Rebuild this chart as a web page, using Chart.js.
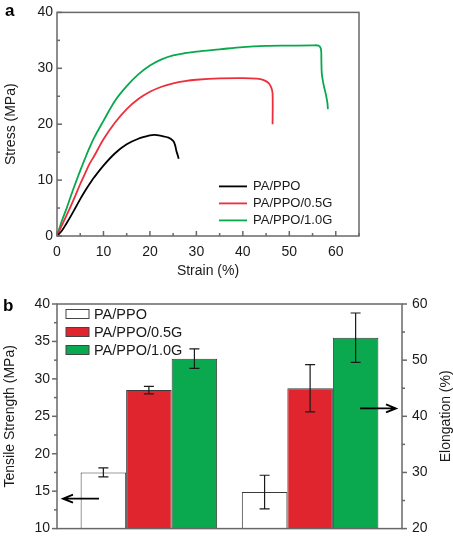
<!DOCTYPE html>
<html>
<head>
<meta charset="utf-8">
<script src="https://cdn.jsdelivr.net/npm/chart.js@4/dist/chart.umd.min.js"></script>
<style>
  body { margin: 0; background: #fff; }
  .wrap { position: relative; width: 453px; height: 547px; }
  canvas { position: absolute; left: 0; }
  #stressChart { top: 0; }
  #barChart { top: 282px; }
</style>
</head>
<body>
<div class="wrap">
  <canvas id="stressChart" width="453" height="282"></canvas>
  <canvas id="barChart" width="453" height="265"></canvas>
</div>
<script>
"use strict";

// ---- data ----
const sampleNames = ["PA/PPO", "PA/PPO/0.5G", "PA/PPO/1.0G"];

// panel a: stress-strain curves
const strainPA = [0, 1, 2, 3, 4, 5, 6, 7, 8, 10, 12.5, 15, 17.5, 20, 21, 22.5, 24, 25, 25.4, 25.7, 26, 26.2];
const stressPA = [0, 0.9, 2.2, 3.6, 5.1, 6.6, 8.0, 9.3, 10.5, 12.6, 14.8, 16.4, 17.4, 18.0, 18.1, 17.9, 17.6, 17.0, 16.3, 15.2, 14.4, 13.8];

const strain05G = [0, 1, 2, 3, 4, 5, 6, 7, 8, 10, 12.5, 15, 17.5, 20, 22.5, 25, 27.5, 30, 35, 40, 43, 44.5, 45.5, 46.1, 46.4, 46.4];
const stress05G = [0, 1.8, 3.6, 5.4, 7.3, 9.3, 11.1, 12.9, 14.3, 17.3, 20.3, 22.7, 24.5, 25.8, 26.7, 27.3, 27.7, 27.95, 28.2, 28.25, 28.15, 27.9, 27.4, 26.6, 25.5, 20.0];

const strain10G = [0, 1, 2, 3, 4, 5, 6, 7, 8, 10, 12.5, 15, 17.5, 20, 22.5, 25, 27.5, 30, 35, 40, 45, 50, 55, 56.3, 56.8, 56.9, 57.0, 57.4, 57.9, 58.2, 58.3];
const stress10G = [0, 2.6, 4.8, 7.2, 9.5, 11.7, 13.8, 15.8, 17.6, 20.6, 24.2, 26.8, 28.9, 30.5, 31.6, 32.3, 32.7, 33.0, 33.4, 33.8, 34.0, 34.05, 34.1, 34.05, 33.5, 31.5, 29.0, 27.0, 25.2, 23.8, 22.7];

// panel b: tensile strength (left axis) and elongation (right axis)
const barCategories = ["Tensile Strength", "Elongation"];
const tensileMean = [17.5, 28.5, 32.7];
const tensileErr = [0.6, 0.5, 1.3];
const elongationMean = [26.5, 45.0, 54.0];
const elongationErr = [3.0, 4.2, 4.4];

// arrows pointing at the axis each group belongs to
const tensileArrowValue = 14;
const elongationArrowValue = 41.4;

// ---- styles ----
const FONT = "'Liberation Sans', Arial, Helvetica, sans-serif";
const AXIS_COLOR = "#686868";
const TEXT_COLOR = "#1a1a1a";
const lineColors = ["#000000", "#ec2f3c", "#08a84c"];
const barColors = ["#ffffff", "#e1252e", "#0aa950"];

Chart.defaults.font.family = FONT;
Chart.defaults.color = TEXT_COLOR;
Chart.defaults.animation = false;

// frame round the plot, tick marks (inward or outward), panel letter
const framePlugin = {
  id: "frame",
  afterDraw(chart, args, opts) {
    const { ctx, chartArea: a } = chart;
    ctx.save();
    ctx.strokeStyle = AXIS_COLOR;
    ctx.lineWidth = 1.5;

    (opts.ticks || []).forEach((t) => {
      const scale = chart.scales[t.axis];
      for (let v = scale.min; v <= scale.max + 1e-9; v += t.minor) {
        const k = v / t.major;
        const isMajor = Math.abs(k - Math.round(k)) < 1e-6;
        const len = isMajor ? t.majorLen : t.minorLen;
        const p = scale.getPixelForValue(v);
        ctx.beginPath();
        if (t.side === "bottom") {
          ctx.moveTo(p, a.bottom);
          ctx.lineTo(p, a.bottom - len * t.dir);
        } else if (t.side === "left") {
          ctx.moveTo(a.left, p);
          ctx.lineTo(a.left + len * t.dir, p);
        } else {
          ctx.moveTo(a.right, p);
          ctx.lineTo(a.right - len * t.dir, p);
        }
        ctx.stroke();
      }
    });

    ctx.strokeRect(a.left, a.top, a.right - a.left, a.bottom - a.top);

    if (opts.panel) {
      ctx.fillStyle = "#000";
      ctx.font = "bold 17px " + FONT;
      ctx.textBaseline = "alphabetic";
      ctx.fillText(opts.panel.text, opts.panel.x, opts.panel.y);
    }

    if (opts.rightTitle) {
      ctx.fillStyle = TEXT_COLOR;
      ctx.font = "14px " + FONT;
      ctx.textAlign = "center";
      ctx.textBaseline = "middle";
      ctx.translate(opts.rightTitle.x, (a.top + a.bottom) / 2);
      ctx.rotate(-Math.PI / 2);
      ctx.fillText(opts.rightTitle.text, 0, 0);
    }
    ctx.restore();
  },
};

// legend drawn inside the plot area
const innerLegendPlugin = {
  id: "innerLegend",
  afterDraw(chart, args, opts) {
    const { ctx, chartArea: a } = chart;
    ctx.save();
    ctx.font = opts.fontSize + "px " + FONT;
    ctx.textBaseline = "middle";
    ctx.textAlign = "left";
    const seen = [];
    chart.data.datasets.forEach((ds) => {
      if (seen.includes(ds.label)) return;
      const row = seen.length;
      seen.push(ds.label);
      const y = a.top + opts.y + row * opts.dy;
      const x = a.left + opts.x;
      if (opts.kind === "line") {
        ctx.strokeStyle = ds.borderColor;
        ctx.lineWidth = 1.8;
        ctx.beginPath();
        ctx.moveTo(x, y);
        ctx.lineTo(x + opts.sampleWidth, y);
        ctx.stroke();
      } else {
        ctx.fillStyle = ds.backgroundColor;
        ctx.fillRect(x, y - opts.boxHeight / 2, opts.sampleWidth, opts.boxHeight);
        ctx.strokeStyle = "#444";
        ctx.lineWidth = 1;
        ctx.strokeRect(x, y - opts.boxHeight / 2, opts.sampleWidth, opts.boxHeight);
      }
      ctx.fillStyle = TEXT_COLOR;
      ctx.fillText(ds.label, x + opts.sampleWidth + opts.gap, y + 0.5);
    });
    ctx.restore();
  },
};

// error bars on top of each bar, and the two axis arrows
const errorBarPlugin = {
  id: "errorBars",
  afterDatasetsDraw(chart, args, opts) {
    const { ctx, chartArea: a } = chart;
    ctx.save();
    ctx.strokeStyle = "#1a1a1a";
    ctx.lineWidth = 1.2;
    chart.data.datasets.forEach((ds, i) => {
      const meta = chart.getDatasetMeta(i);
      const scale = chart.scales[ds.yAxisID];
      meta.data.forEach((bar, j) => {
        const val = ds.data[j].y;
        const err = ds.errors[j];
        if (val === null || err === null) return;
        const yTop = scale.getPixelForValue(val + err);
        const yBot = scale.getPixelForValue(val - err);
        const cap = opts.capWidth / 2;
        ctx.beginPath();
        ctx.moveTo(bar.x, yTop);
        ctx.lineTo(bar.x, yBot);
        ctx.moveTo(bar.x - cap, yTop);
        ctx.lineTo(bar.x + cap, yTop);
        ctx.moveTo(bar.x - cap, yBot);
        ctx.lineTo(bar.x + cap, yBot);
        ctx.stroke();
      });
    });

    // arrows
    ctx.strokeStyle = "#000";
    ctx.lineWidth = 1.8;
    (opts.arrows || []).forEach((ar) => {
      const y = chart.scales[ar.axis].getPixelForValue(ar.value);
      const tip = ar.toward === "left" ? a.left + ar.inset : a.right - ar.inset;
      const tail = ar.toward === "left" ? tip + ar.length : tip - ar.length;
      const dir = ar.toward === "left" ? 1 : -1;
      ctx.beginPath();
      ctx.moveTo(tail, y);
      ctx.lineTo(tip, y);
      ctx.moveTo(tip + dir * 10, y - 4);
      ctx.lineTo(tip, y);
      ctx.lineTo(tip + dir * 10, y + 4);
      ctx.stroke();
    });
    ctx.restore();
  },
};

function toPoints(xs, ys) {
  return xs.map((x, i) => ({ x: x, y: ys[i] }));
}

// ---- panel a ----
const curves = [
  toPoints(strainPA, stressPA),
  toPoints(strain05G, stress05G),
  toPoints(strain10G, stress10G),
];

new Chart(document.getElementById("stressChart"), {
  type: "scatter",
  data: {
    datasets: curves.map((pts, i) => ({
      label: sampleNames[i],
      data: pts,
      showLine: true,
      borderColor: lineColors[i],
      borderWidth: 1.8,
      pointRadius: 0,
      tension: 0.35,
      fill: false,
    })),
  },
  options: {
    responsive: false,
    devicePixelRatio: 1,
    layout: { padding: { top: 11, right: 94, left: 0, bottom: 0 } },
    scales: {
      x: {
        type: "linear",
        min: 0,
        max: 65,
        grid: { display: false, drawTicks: false },
        border: { display: false },
        ticks: { stepSize: 10, includeBounds: false, padding: 8, font: { size: 14 }, color: TEXT_COLOR },
        title: { display: true, text: "Strain (%)", font: { size: 14 }, padding: { top: 0, bottom: 2 }, color: TEXT_COLOR },
        afterFit: (scale) => { scale.height = 46; },
      },
      y: {
        min: 0,
        max: 40,
        grid: { display: false, drawTicks: false },
        border: { display: false },
        ticks: { stepSize: 10, padding: 4, font: { size: 14 }, color: TEXT_COLOR },
        title: { display: true, text: "Stress (MPa)", font: { size: 14 }, padding: { top: 3, bottom: 0 }, color: TEXT_COLOR },
        afterFit: (scale) => { scale.width = 57; },
      },
    },
    plugins: {
      legend: { display: false },
      tooltip: { enabled: false },
      frame: {
        panel: { text: "a", x: 5, y: 16 },
        ticks: [
          { axis: "x", side: "bottom", dir: 1, major: 10, minor: 5, majorLen: 5, minorLen: 3 },
          { axis: "y", side: "left", dir: 1, major: 10, minor: 5, majorLen: 5, minorLen: 3 },
        ],
      },
      innerLegend: { kind: "line", x: 162, y: 174, dy: 17, sampleWidth: 28, gap: 6, fontSize: 13 },
    },
  },
  plugins: [framePlugin, innerLegendPlugin],
});

// ---- panel b ----
const barDatasets = [];
sampleNames.forEach((name, i) => {
  barDatasets.push({
    label: name,
    yAxisID: "y",
    data: barCategories.map((c, k) => ({ x: k, y: k === 0 ? tensileMean[i] : null })),
    errors: barCategories.map((c, k) => (k === 0 ? tensileErr[i] : null)),
    backgroundColor: barColors[i],
    borderColor: "#3a3a3a",
    borderWidth: 1,
  });
});
sampleNames.forEach((name, i) => {
  barDatasets.push({
    label: name,
    yAxisID: "y1",
    data: barCategories.map((c, k) => ({ x: k, y: k === 1 ? elongationMean[i] : null })),
    errors: barCategories.map((c, k) => (k === 1 ? elongationErr[i] : null)),
    backgroundColor: barColors[i],
    borderColor: "#3a3a3a",
    borderWidth: 1,
  });
});

new Chart(document.getElementById("barChart"), {
  type: "bar",
  data: { datasets: barDatasets },
  options: {
    responsive: false,
    devicePixelRatio: 1,
    layout: { padding: { top: 22, right: 0, left: 0, bottom: 8 } },
    datasets: {
      bar: { skipNull: true, categoryPercentage: 0.847, barPercentage: 1, borderSkipped: "start" },
    },
    scales: {
      x: {
        type: "linear",
        display: false,
        offset: false,
        stacked: false,
        min: -0.57,
        max: 1.57,
        afterBuildTicks: (scale) => {
          scale.ticks = barCategories.map((c, k) => ({ value: k }));
        },
      },
      y: {
        position: "left",
        min: 10,
        max: 40,
        grid: { display: false, drawTicks: false },
        border: { display: false },
        ticks: { stepSize: 5, padding: 7, font: { size: 14 }, color: TEXT_COLOR },
        title: { display: true, text: "Tensile Strength (MPa)", font: { size: 14 }, padding: { top: 1.6, bottom: 0 }, color: TEXT_COLOR },
        afterFit: (scale) => { scale.width = 57; },
      },
      y1: {
        position: "right",
        min: 20,
        max: 60,
        grid: { display: false, drawTicks: false },
        border: { display: false },
        ticks: { stepSize: 10, padding: 10, font: { size: 14 }, color: TEXT_COLOR },
        afterFit: (scale) => { scale.width = 51; },
      },
    },
    plugins: {
      legend: { display: false },
      tooltip: { enabled: false },
      frame: {
        panel: { text: "b", x: 3, y: 29 },
        rightTitle: { text: "Elongation (%)", x: 446 },
        ticks: [
          { axis: "y", side: "left", dir: -1, major: 5, minor: 2.5, majorLen: 5, minorLen: 3 },
          { axis: "y1", side: "right", dir: -1, major: 10, minor: 5, majorLen: 5, minorLen: 3 },
        ],
      },
      innerLegend: { kind: "box", x: 9, y: 10, dy: 18, sampleWidth: 23, boxHeight: 9, gap: 5, fontSize: 14.5 },
      errorBars: {
        capWidth: 10,
        arrows: [
          { axis: "y", value: tensileArrowValue, toward: "left", inset: 6, length: 36 },
          { axis: "y1", value: elongationArrowValue, toward: "right", inset: 6, length: 36 },
        ],
      },
    },
  },
  plugins: [framePlugin, innerLegendPlugin, errorBarPlugin],
});
</script>
</body>
</html>
